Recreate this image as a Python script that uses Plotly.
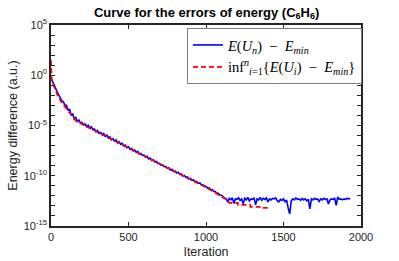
import plotly.graph_objects as go

# ---- data (log10 of energy differences) ----
blue_iter = list(range(0, 1940, 10))
blue_log10_a = [  # iterations 0..190
    -0.25, -0.55, -0.95, -1.3, -1.65, -2.0, -2.25, -2.55, -2.65, -3.0,
    -3.0, -3.45, -3.4, -3.95, -3.85, -4.35, -4.2, -4.6, -4.45, -4.75,
]
blue_log10_b = [  # iterations 200..1130
    -4.7, -4.95, -4.85, -5.1, -4.98, -5.25, -5.12, -5.42, -5.35, -5.62,
    -5.5, -5.78, -5.68, -5.92, -5.8, -6.08, -5.95, -6.25, -6.12, -6.42,
    -6.3, -6.56, -6.44, -6.72, -6.62, -6.88, -6.78, -7.04, -6.94, -7.2,
    -7.12, -7.38, -7.28, -7.52, -7.44, -7.68, -7.58, -7.86, -7.78, -7.98,
    -7.94, -8.16, -8.06, -8.32, -8.24, -8.48, -8.4, -8.64, -8.58, -8.8,
    -8.76, -8.96, -8.92, -9.1, -9.06, -9.26, -9.2, -9.42, -9.36, -9.58,
    -9.52, -9.72, -9.66, -9.86, -9.82, -10.02, -9.96, -10.16, -10.12, -10.3,
    -10.26, -10.46, -10.42, -10.6, -10.56, -10.76, -10.72, -10.9, -10.9, -11.06,
    -11.06, -11.24, -11.2, -11.4, -11.38, -11.56, -11.56, -11.74, -11.74, -11.92,
    -11.94, -12.1, -12.22, -12.3,
]
blue_log10_c = [  # iterations 1140..1930
    -12.6, -12.25, -12.4, -12.2, -12.75, -12.3,
    -12.35, -12.2, -12.45, -12.3, -12.8, -12.25, -12.4, -12.15, -12.5, -12.3,
    -12.35, -12.2, -12.9, -12.3, -12.4, -12.15, -12.45, -12.25, -12.35, -12.2,
    -12.6, -12.3, -12.4, -12.25, -12.3, -12.2, -12.5, -12.6, -12.35, -12.45,
    -12.3, -12.6, -12.4, -13.2, -13.8, -12.5, -12.3, -12.4, -12.2, -12.35,
    -12.3, -12.45, -12.25, -12.4, -12.3, -12.5, -12.35, -13.3, -12.3, -12.4,
    -12.25, -12.35, -12.3, -12.55, -12.3, -12.4, -12.25, -12.35, -12.3, -12.8,
    -12.4, -12.3, -12.35, -12.25, -12.95, -12.1, -12.35, -12.3, -12.4, -12.3,
    -12.35, -12.25, -12.3, -12.3,
]
blue_log10 = blue_log10_a + blue_log10_b + blue_log10_c

red_iter = [0, 2, 4, 10, 20, 30, 40, 50, 60, 70, 80, 90, 100, 120, 140, 160,
            180, 200, 250, 300, 400, 500, 600, 700, 800, 900, 1000, 1100,
            1130, 1150, 1205, 1206, 1285, 1286, 1355, 1356, 1413]
red_log10 = [1.5, 0.6, -0.35, -0.7, -1.15, -1.5, -1.9, -2.2, -2.55, -2.75,
             -2.95, -3.15, -3.35, -3.8, -4.2, -4.5, -4.7, -4.85, -5.25, -5.65,
             -6.45, -7.25, -8.05, -8.85, -9.62, -10.38, -11.15, -12.05,
             -12.35, -12.7, -12.7, -12.9, -12.9, -13.1, -13.1, -13.2, -13.2]

x_ticks = [0, 500, 1000, 1500, 2000]
y_decades = list(range(-15, 6))
y_labels = {5: "10<sup>5</sup>", 0: "10<sup>0</sup>", -5: "10<sup>-5</sup>",
            -10: "10<sup>-10</sup>", -15: "10<sup>-15</sup>"}

blue_vals = [10 ** v for v in blue_log10]
red_vals = [10 ** v for v in red_log10]

fig = go.Figure()
fig.add_trace(go.Scatter(
    x=blue_iter[:len(blue_vals)], y=blue_vals, mode="lines",
    line=dict(color="#0000FF", width=1.6),
    name="<i>E</i>(<i>U</i><sub><i>n</i></sub>)\u2002−\u2002<i>E</i><sub><i>min</i></sub>",
))
fig.add_trace(go.Scatter(
    x=red_iter, y=red_vals, mode="lines",
    line=dict(color="#FF0000", width=1.8, dash="5px,3px"),
    name="inf<sup><i>n</i></sup><sub><i>i</i>=1</sub>{<i>E</i>(<i>U</i><sub><i>i</i></sub>)\u2002−\u2002<i>E</i><sub><i>min</i></sub>}",
))

axis_col = "#262626"
fig.update_layout(
    width=399, height=261,
    margin=dict(l=51, r=38, t=25, b=35, autoexpand=False),
    paper_bgcolor="white", plot_bgcolor="white",
    font=dict(family="Liberation Sans, Arial, sans-serif", size=11, color=axis_col),
    title=dict(
        text="<b>Curve for the errors of energy (C<sub>6</sub>H<sub>6</sub>)</b>",
        x=0.518, xanchor="center", y=1 - 12 / 261, yanchor="middle",
        font=dict(size=13, color="black"), automargin=False,
    ),
    legend=dict(
        x=1.003, xanchor="right", y=0.985, yanchor="top",
        bgcolor="white", bordercolor="#7f7f7f", borderwidth=1,
        font=dict(family="Liberation Serif, Times New Roman, serif", size=14.5, color="black"),
        tracegroupgap=0, itemwidth=30,
    ),
    showlegend=True,
)
fig.update_xaxes(
    range=[0, 2000], tickvals=x_ticks, ticktext=[str(v) for v in x_ticks],
    showgrid=False, zeroline=False, showline=True, linecolor=axis_col, linewidth=1.5,
    mirror="ticks", ticks="inside", ticklen=4, tickcolor=axis_col, tickwidth=1,
    automargin=False,
    title=dict(text="Iteration", font=dict(size=12.5, color=axis_col), standoff=5),
)
fig.update_yaxes(
    type="log", range=[-15, 5],
    tickvals=[10 ** k for k in y_decades],
    ticktext=[y_labels.get(k, "") for k in y_decades],
    showgrid=False, zeroline=False, showline=True, linecolor=axis_col, linewidth=1.5,
    mirror="ticks", ticks="inside", ticklen=4, tickcolor=axis_col, tickwidth=1,
    automargin=False,
    title=dict(text="Energy difference (a.u.)", font=dict(size=12.5, color=axis_col), standoff=3),
)

fig.write_html(
    "out.html",
    config={"displayModeBar": False},
    post_script="document.body.style.margin='0';document.body.style.overflow='hidden';",
)
